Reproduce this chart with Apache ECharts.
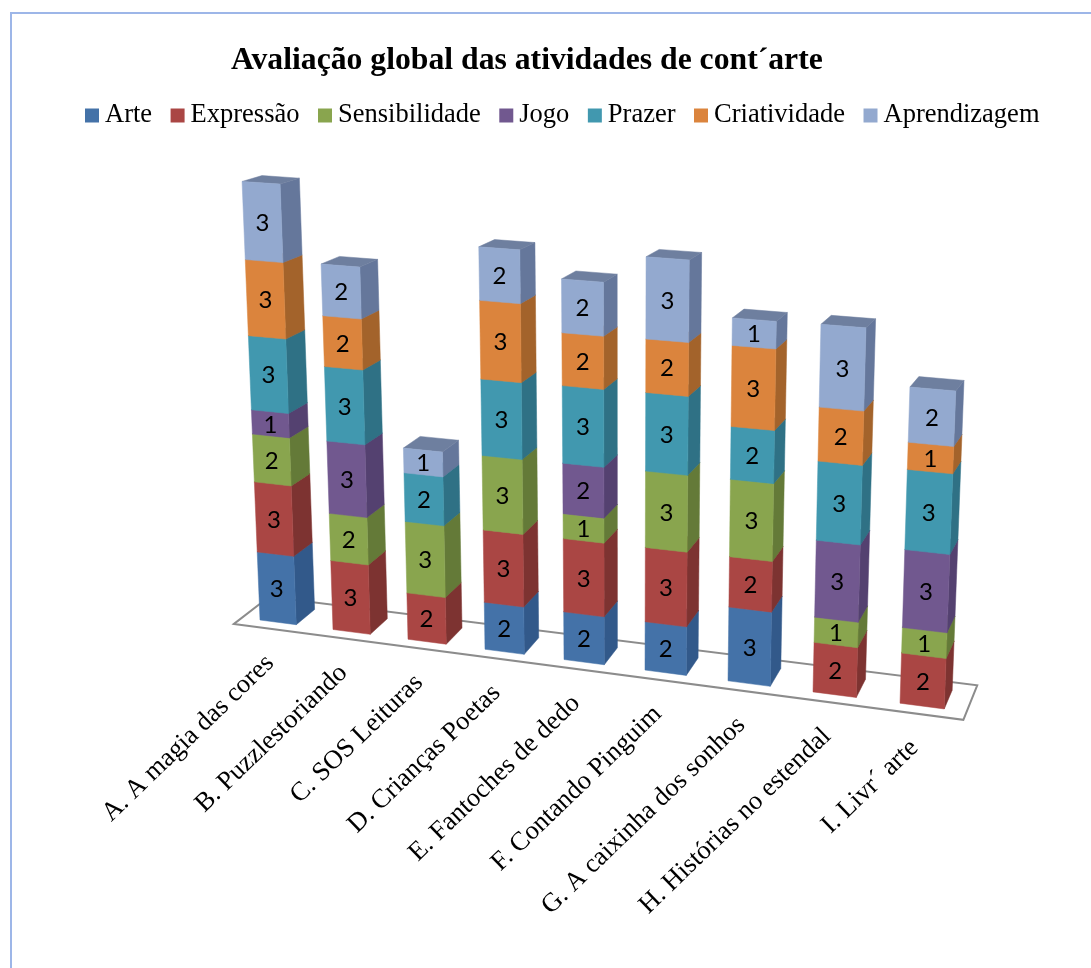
<!DOCTYPE html>
<html><head><meta charset="utf-8">
<style>html,body{margin:0;padding:0;background:#fff}#c{width:1091px;height:968px}</style>
<script src="https://cdn.jsdelivr.net/npm/echarts@6/dist/echarts.min.js"></script>
</head><body><div id="c"></div>
<script>
const categories=['A. A magia das cores','B. Puzzlestoriando','C. SOS Leituras','D. Crianças Poetas','E. Fantoches de dedo','F. Contando Pinguim','G. A caixinha dos sonhos','H. Histórias no estendal','I. Livr´ arte'];
const seriesNames=['Arte','Expressão','Sensibilidade','Jogo','Prazer','Criatividade','Aprendizagem'];
const arte=[3,0,0,2,2,2,3,0,0];
const expressao=[3,3,2,3,3,3,2,2,2];
const sensibilidade=[2,2,3,3,1,3,3,1,1];
const jogo=[1,3,0,0,2,0,0,3,3];
const prazer=[3,3,2,3,3,3,2,3,3];
const criatividade=[3,2,0,3,2,2,3,2,1];
const aprendizagem=[3,2,1,2,2,3,1,3,2];
const seriesValues=[arte,expressao,sensibilidade,jogo,prazer,criatividade,aprendizagem];
const frontColors=['#4472A8','#AA4644','#89A54E','#71588F','#4198AF','#DB843D','#93A9CF'];
const sideColors=['#32598A','#7D3331','#647A38','#544170','#2F7185','#A3632B','#65779B'];
const topColors=['#3A6496','#8A3A38','#6E8540','#5D497A','#357D92','#B56E30','#6E7F9F'];

// perspective of the 3D floor and columns
function floorX(tau){return 260+72*tau+tau*tau;}
function floorDepthX(tau){return 19-1.3*tau;}
function floorDepthY(tau){return -15-0.45*tau;}
function project(t,u,z,h0){
  const tau=t+0.5*u, x0=floorX(tau), xl=floorX(t);
  const h=h0*(1+0.000224*h0)*(1+0.014*t);
  const xf=x0+z*floorDepthX(tau);
  const yb=620+0.13*(xl-260);
  const y=yb+0.13*(x0-xl)*(1-h/1000)-h+z*floorDepthY(tau)*(1-h/720);
  return [xf+(xf-622)*0.000113*h,y];
}
function floorPoint(tau,z){
  const x0=floorX(tau);
  return [x0+z*floorDepthX(tau),620+0.13*(x0-260)+z*floorDepthY(tau)];
}
function band(api){return api.size([1,0])[0];}
function tIndex(api,i){return (api.coord([i,0])[0]-api.coord([0,0])[0])/band(api);}

function renderSegment(s){return function(params,api){
  const i=api.value(0),a=api.value(1),b=api.value(2);
  if(b<=a)return {type:'group',children:[]};
  const t=tIndex(api,i);
  const base=api.coord([i,0])[1];
  const h1=base-api.coord([i,a])[1],h2=base-api.coord([i,b])[1];
  const P=(u,z,h)=>project(t,u,z,h);
  const poly=(pts,fill)=>({type:'polygon',shape:{points:pts},style:{fill:fill,stroke:fill,lineWidth:0.5}});
  const fc=P(0.5,0,(h1+h2)/2);
  return {type:'group',children:[
    poly([P(1,0,h1),P(1,1,h1),P(1,1,h2),P(1,0,h2)],sideColors[s]),
    poly([P(0,0,h2),P(1,0,h2),P(1,1,h2),P(0,1,h2)],topColors[s]),
    poly([P(0,0,h1),P(1,0,h1),P(1,0,h2),P(0,0,h2)],frontColors[s]),
    {type:'text',x:fc[0],y:fc[1]+1,style:{text:String(b-a),fill:'#000',font:'24px Lato',align:'center',verticalAlign:'middle'}}
  ]};
};}
function renderFloor(params,api){
  const pts=[floorPoint(-0.25,-0.42),floorPoint(8.75,-0.42),floorPoint(8.75,1.4),floorPoint(-0.25,1.4)];
  return {type:'polygon',shape:{points:pts},style:{fill:'#fff',stroke:'#8C8C8C',lineWidth:2}};
}
function renderLabel(params,api){
  const i=api.value(0),t=tIndex(api,i);
  const p=floorPoint(t,-0.42);
  return {type:'text',x:p[0]+18,y:p[1]+33,rotation:44*Math.PI/180,
    style:{text:categories[i],fill:'#000',font:'26.5px "Liberation Serif"',align:'right',verticalAlign:'middle'}};
}
const stackSeries=seriesNames.map((name,s)=>{
  const data=categories.map((c,i)=>{
    let a=0;for(let k=0;k<s;k++)a+=seriesValues[k][i];
    return [i,a,a+seriesValues[s][i]];
  });
  return {type:'custom',name:name,data:data,encode:{x:0,y:[1,2]},renderItem:renderSegment(s),
    itemStyle:{color:frontColors[s]},z:3+s,silent:true};
});
const chart=echarts.init(document.getElementById('c'),null,{renderer:'canvas'});
chart.setOption({
  animation:false,backgroundColor:'#fff',
  title:{text:'Avaliação global das atividades de cont´arte',left:226,top:40,
    textStyle:{fontFamily:'Liberation Serif',fontWeight:'bold',fontSize:31.7,color:'#000'}},
  legend:{data:seriesNames,left:80,top:97,itemWidth:14,itemHeight:14,itemGap:18.5,icon:'rect',
    textStyle:{fontFamily:'Liberation Serif',fontSize:26.5,color:'#000',padding:[0,0,0,1]}},
  grid:{left:240,top:150,width:720,height:447},
  xAxis:{type:'category',data:categories,show:false},
  yAxis:{type:'value',min:0,max:20,show:false},
  graphic:[{type:'polyline',shape:{points:[[11,968],[11,13],[1091,13]]},style:{stroke:'#9DB6E8',lineWidth:2,fill:null},silent:true}],
  series:[
    {type:'custom',name:'floor',data:[[0,0]],encode:{x:0,y:1},renderItem:renderFloor,z:1,silent:true},
    {type:'custom',name:'labels',data:categories.map((c,i)=>[i,0]),encode:{x:0,y:1},renderItem:renderLabel,z:2,silent:true}
  ].concat(stackSeries)
});
</script></body></html>
